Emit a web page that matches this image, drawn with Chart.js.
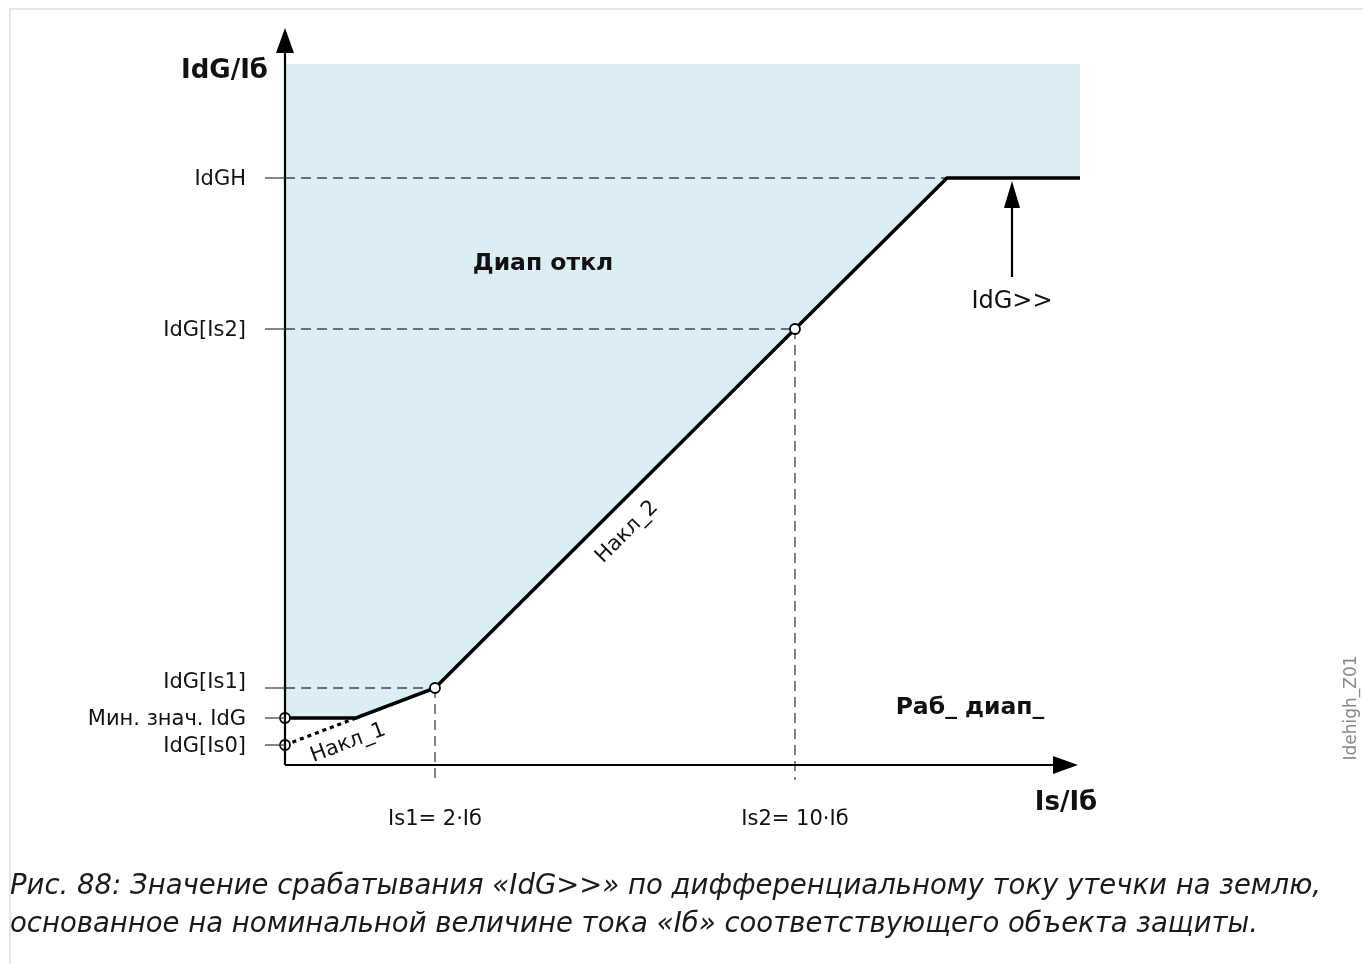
<!DOCTYPE html>
<html>
<head>
<meta charset="utf-8">
<script src="https://cdn.jsdelivr.net/npm/chart.js@4"></script>
<style>
  html, body { margin: 0; padding: 0; background: #fff; }
  #wrap { position: relative; width: 1363px; height: 964px; }
</style>
</head>
<body>
<div id="wrap"><canvas id="chart" width="1363" height="964"></canvas></div>
<script>
// schematic units: 1 unit ~ 10 px on both axes
const curveX = [0, 7.1, 15, 51, 66.2, 79.5];
const curveY = [4.7, 4.7, 7.7, 43.6, 58.7, 58.7];
const slope1X = [0, 7.1];
const slope1Y = [2, 4.7];
const markerX = [0, 0, 15, 51];
const markerY = [4.7, 2, 7.7, 43.6];

const yTickVals = [58.7, 43.6, 7.7, 4.7, 2];
const yTickLabels = ["IdGH", "IdG[Is2]", "IdG[Is1]", "Мин. знач. IdG", "IdG[Is0]"];
const xTickVals = [15, 51];
const xTickLabels = ["Is1= 2·Iб", "Is2= 10·Iб"];

// dashed guides [x1, y1, x2, y2]
const guides = [
  [0, 58.7, 66.2, 58.7],
  [0, 43.6, 51, 43.6],
  [0, 7.7, 15, 7.7],
  [15, 7.7, 15, -1.5],
  [51, 43.6, 51, -1.5]
];

const toPts = (xs, ys) => xs.map((x, i) => ({ x: x, y: ys[i] }));

const guideSets = guides.map(g => ({
  data: [{ x: g[0], y: g[1] }, { x: g[2], y: g[3] }],
  borderColor: "#444",
  borderWidth: 1.3,
  borderDash: [10, 6],
  pointRadius: 0,
  clip: false,
  order: 4
}));

function arrow(ctx, x, y, dir, len, half) {
  ctx.beginPath();
  if (dir === "up") {
    ctx.moveTo(x, y);
    ctx.lineTo(x - half, y + len);
    ctx.lineTo(x + half, y + len);
  } else {
    ctx.moveTo(x, y);
    ctx.lineTo(x - len, y - half);
    ctx.lineTo(x - len, y + half);
  }
  ctx.closePath();
  ctx.fill();
}

function txt(ctx, s, x, y, font, align, color, rot) {
  ctx.save();
  ctx.font = font;
  ctx.fillStyle = color || "#111";
  ctx.textAlign = align || "left";
  ctx.textBaseline = "middle";
  ctx.translate(x, y);
  if (rot) ctx.rotate(rot);
  ctx.fillText(s, 0, 0);
  ctx.restore();
}

const decor = {
  id: "decor",
  afterDatasetsDraw(chart) {
    const ctx = chart.ctx;
    const xs = chart.scales.x, ys = chart.scales.y;
    const x0 = xs.getPixelForValue(0), y0 = ys.getPixelForValue(0);
    const font = "21px 'DejaVu Sans'";
    ctx.save();
    ctx.strokeStyle = "#000";
    ctx.fillStyle = "#000";
    ctx.lineWidth = 2.2;
    // axes
    ctx.beginPath();
    ctx.moveTo(x0, y0);
    ctx.lineTo(x0, 50);
    ctx.moveTo(x0, y0);
    ctx.lineTo(1055, y0);
    ctx.stroke();
    arrow(ctx, x0, 28, "up", 25, 9);
    arrow(ctx, 1078, y0, "right", 25, 9);

    // y ticks and labels
    ctx.strokeStyle = "#444";
    ctx.lineWidth = 1.3;
    yTickVals.forEach((v, i) => {
      const py = ys.getPixelForValue(v);
      ctx.beginPath();
      ctx.moveTo(x0 - 20, py);
      ctx.lineTo(x0, py);
      ctx.stroke();
      const dy = i === 2 ? -5 : 2; // IdG[Is1] sits a bit above its tick
      txt(ctx, yTickLabels[i], x0 - 39, py + dy, font, "right", "#111");
    });
    xTickVals.forEach((v, i) => {
      txt(ctx, xTickLabels[i], xs.getPixelForValue(v), 820, font, "center", "#111");
    });

    // IdG>> pointer
    ctx.strokeStyle = "#000";
    ctx.lineWidth = 2.2;
    ctx.beginPath();
    ctx.moveTo(1012, 277);
    ctx.lineTo(1012, 200);
    ctx.stroke();
    arrow(ctx, 1012, 181, "up", 27, 8);
    txt(ctx, "IdG>>", 1012, 302, "24px 'DejaVu Sans'", "center", "#111");

    // axis titles and zone names
    txt(ctx, "IdG/Iб", 268, 71, "bold 26px 'DejaVu Sans'", "right", "#111");
    txt(ctx, "Is/Iб", 1066, 803, "bold 26px 'DejaVu Sans'", "center", "#111");
    txt(ctx, "Диап откл", 543, 264, "bold 23.5px 'DejaVu Sans'", "center", "#111");
    txt(ctx, "Раб_ диап_", 970, 708, "bold 23.5px 'DejaVu Sans'", "center", "#111");
    txt(ctx, "Накл_2", 627, 532, "21px 'DejaVu Sans'", "center", "#111", -Math.PI / 4);
    txt(ctx, "Накл_1", 348, 743, "21px 'DejaVu Sans'", "center", "#111", -0.36);

    // side code and caption
    txt(ctx, "Idehigh_Z01", 1352, 708, "17px 'DejaVu Sans'", "center", "#888", -Math.PI / 2);
    txt(ctx, "Рис. 88: Значение срабатывания «IdG>>» по дифференциальному току утечки на землю,",
      10, 887, "italic 27.5px 'DejaVu Sans'", "left", "#1a1a1a");
    txt(ctx, "основанное на номинальной величине тока «Iб» соответствующего объекта защиты.",
      10, 925, "italic 27.5px 'DejaVu Sans'", "left", "#1a1a1a");

    // frame
    ctx.strokeStyle = "#e6e6e6";
    ctx.lineWidth = 2;
    ctx.beginPath();
    ctx.moveTo(1363, 9);
    ctx.lineTo(10, 9);
    ctx.lineTo(10, 964);
    ctx.stroke();
    ctx.restore();
  }
};

new Chart(document.getElementById("chart"), {
  type: "line",
  data: {
    datasets: [
      {
        data: toPts(curveX, curveY),
        fill: "end",
        backgroundColor: "#dbeef4",
        borderWidth: 0,
        pointRadius: 0,
        order: 6
      },
      ...guideSets,
      {
        data: toPts(slope1X, slope1Y),
        borderColor: "#000",
        borderWidth: 3.2,
        borderDash: [4, 4],
        pointRadius: 0,
        order: 3
      },
      {
        data: toPts(curveX, curveY),
        borderColor: "#000",
        borderWidth: 3.5,
        pointRadius: 0,
        clip: false,
        order: 2
      },
      {
        type: "scatter",
        data: toPts(markerX, markerY),
        pointRadius: 5,
        pointBackgroundColor: "#fff",
        pointBorderColor: "#000",
        pointBorderWidth: 1.8,
        clip: false,
        order: 1
      }
    ]
  },
  options: {
    responsive: false,
    animation: false,
    layout: { padding: { left: 285, right: 283, top: 64, bottom: 199 } },
    plugins: { legend: { display: false }, tooltip: { enabled: false } },
    scales: {
      x: { type: "linear", min: 0, max: 79.5, display: false },
      y: { type: "linear", min: 0, max: 70.1, display: false }
    }
  },
  plugins: [decor]
});
</script>
</body>
</html>
